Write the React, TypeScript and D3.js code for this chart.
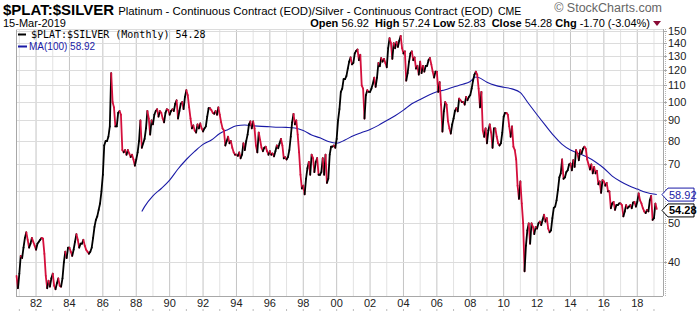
import React from "react";
import * as d3 from "d3";

// ---- Data (monthly closes of Platinum/Silver ratio), first point Nov 1980 ----
const FIRST_YEAR = 1980;
const FIRST_MONTH = 10; // November (0-based)

const r1980 = [37, 34.5];
const r1981 = [37.5, 41.5, 41, 43.5, 46, 47.5, 45.5, 43.5, 44.5, 46, 45, 44];
const r1982 = [43, 44.5, 45, 45.5, 46, 45.8, 42, 37, 34.5, 36, 34.8, 36.5];
const r1983 = [37.5, 35, 34.3, 35.5, 36.5, 35, 34.8, 36.5, 40, 42.5, 41, 43.5];
const r1984 = [43.5, 42.5, 41.5, 43, 45, 47, 45.5, 43.5, 44.5, 44.5, 45.5, 44];
const r1985 = [43, 42.5, 42, 42.5, 43.5, 46, 49, 51, 52, 54, 56, 60];
const r1986 = [66, 78, 80, 80, 82, 87, 118, 100, 97, 87, 87, 94];
const r1987 = [95, 93, 76, 75, 76, 74, 76, 74.5, 73, 74, 72, 69.5];
const r1988 = [72, 75, 80, 90, 77, 79, 81, 86, 95, 91, 83, 90];
const r1989 = [88, 93, 95, 96, 92, 95, 94, 91, 89, 94, 96, 95.5];
const r1990 = [93, 95, 96, 95, 99, 101, 91, 95, 99, 100, 96, 103];
const r1991 = [107, 104, 97, 91, 86, 87.5, 85, 84, 88, 86, 88.5, 86];
const r1992 = [84.5, 86, 87, 92, 96.5, 96.5, 95.5, 94, 93.5, 95, 93, 97];
const r1993 = [93, 89, 86, 85, 78, 80, 82, 79, 80, 77, 75, 74];
const r1994 = [74, 73.5, 75, 72.5, 74, 79, 76, 80, 83, 88, 89.5, 86];
const r1995 = [89.5, 86, 78, 75, 84, 80.5, 77, 75.5, 77, 77.5, 75.5, 74];
const r1996 = [75.5, 74, 74.5, 73.3, 75.5, 78, 76.8, 79, 81, 78, 72.5, 73];
const r1997 = [72, 73, 76, 82, 89, 93.5, 88, 90, 83, 75, 66, 61];
const r1998 = [62, 59, 64.5, 68.5, 71, 66, 74, 72.6, 67, 71, 72.6, 66];
const r1999 = [66, 67, 72.6, 66, 74, 63, 64.5, 74, 77.5, 77.5, 78, 77];
const r2000 = [81, 90, 96, 106, 108, 114, 114, 116, 121, 126, 129, 124];
const r2001 = [125, 132, 134, 135, 127, 131, 110, 108, 91, 104, 107, 106];
const r2002 = [106, 108, 111, 115, 109, 115, 125, 122.7, 128.6, 126, 128, 125];
const r2003 = [122, 136, 144, 140, 128, 140, 136, 141, 137, 142, 146, 136];
const r2004 = [132, 133.6, 113, 118, 126, 132, 133.6, 127, 129, 121, 123, 117];
const r2005 = [126, 118, 123, 119, 123, 123, 127, 128.6, 124, 119, 115, 119];
const r2006 = [119, 106, 112, 98.5, 84.5, 94.8, 100, 98.5, 89.5, 86, 83.5, 88];
const r2007 = [91, 95, 96.6, 94.8, 102, 101, 100, 100, 98.5, 103, 101, 103];
const r2008 = [104, 108, 113, 117, 119, 117, 108, 97, 106, 85, 82, 86];
const r2009 = [79, 85, 88, 84, 77, 86, 86, 82, 79, 78, 79, 84];
const r2010 = [92, 94, 94, 93, 87, 82, 87, 77.5, 76, 72, 62, 57.5];
const r2011 = [63.5, 56, 50, 38, 44, 48, 50, 44.5, 50, 49, 47, 49];
const r2012 = [48.5, 50, 50.5, 49.5, 51, 52.5, 50.5, 51.5, 48.5, 47.5, 48, 51.5];
const r2013 = [54.6, 55, 57, 60.5, 65, 66.5, 72, 64.5, 65, 67, 67.7, 70];
const r2014 = [70.4, 67.7, 71.7, 69, 76, 74.5, 71.7, 76, 74.5, 76.6, 77.5, 76.6];
const r2015 = [72, 70, 68, 70, 66.5, 69, 66.5, 67.5, 62.5, 63.5, 59.5, 64];
const r2016 = [63.5, 62, 63, 60, 60, 54.5, 56, 56.5, 54, 55.5, 55.5, 56];
const r2017 = [56, 55.5, 52, 53.5, 55.5, 54.5, 55, 55.5, 54.5, 56.3, 56.5, 55];
const r2018 = [56.5, 59.3, 57, 56, 54.5, 53.5, 53, 54, 53.5, 57, 58.5, 51];
const r2019 = [51.5, 55.98, 54.28];

const ratioYears = [
  r1980, r1981, r1982, r1983, r1984, r1985, r1986, r1987, r1988, r1989,
  r1990, r1991, r1992, r1993, r1994, r1995, r1996, r1997, r1998, r1999,
  r2000, r2001, r2002, r2003, r2004, r2005, r2006, r2007, r2008, r2009,
  r2010, r2011, r2012, r2013, r2014, r2015, r2016, r2017, r2018, r2019,
];

// 100-month moving average, read at sample dates
const maDates = [
  "1988-05", "1988-07", "1989-01", "1989-07", "1990-01", "1990-07", "1991-01", "1991-07",
  "1992-01", "1992-07", "1993-01", "1993-07", "1994-01", "1994-07", "1995-01", "1995-07",
  "1996-01", "1996-07", "1997-01", "1997-07", "1998-01", "1998-07", "1999-01", "1999-07",
  "2000-01", "2000-07", "2001-01", "2001-07", "2002-01", "2002-07", "2003-01", "2003-07",
  "2004-01", "2004-07", "2005-01", "2005-07", "2006-01", "2006-07", "2007-01", "2007-07",
  "2008-01", "2008-05", "2008-07", "2009-01", "2009-07", "2010-01", "2010-07", "2011-01",
  "2011-07", "2012-01", "2012-07", "2013-01", "2013-07", "2014-01", "2014-07", "2015-01",
  "2015-07", "2016-01", "2016-07", "2017-01", "2017-07", "2018-01", "2018-07", "2019-03",
];
const maValues = [
  53.5, 55, 58.5, 61, 64, 68.2, 72, 75.4,
  78.5, 80.5, 83.5, 85.5, 87.3, 87.7, 87.3, 87,
  86.8, 86.6, 86.5, 86.2, 85, 82.8, 81.5, 79.8,
  79, 80.5, 82.5, 84, 85.5, 87.5, 90, 92.5,
  95.5, 99, 101.5, 104, 106, 107.3, 109, 110.5,
  112.5, 115.4, 115, 112, 110, 108.8, 107.8, 105.5,
  99, 93, 87.5, 82.5, 78.5, 76, 74.5, 73,
  71, 68.5, 65.5, 63.5, 62, 60.8, 59.7, 58.92,
];

const yTicks = [40, 50, 60, 70, 80, 90, 100, 110, 120, 130, 140, 150];
const yLabels = [40, 50, 70, 80, 90, 100, 110, 120, 130, 140, 150]; // 60 is hidden behind the MA tag
const xLabelYears = d3.range(1982, 2019, 2);
const xGridYears = d3.range(1981, 2020, 1);

const lastClose = 54.28;
const lastMA = 58.92;

// ---- Layout ----
const W = 700;
const H = 312;
const L = 16, R = 663, T = 29, B = 296;
const UP = "#000000";
const DOWN = "#d40f3c";
const MA_COLOR = "#1a1aa6";

export default function App() {
  const x = d3.scaleLinear().domain([1980.8, 2019.54]).range([L, R]);
  const y = d3.scaleLog().domain([33.0, 151.8]).range([B, T]);

  const pts: { t: number; v: number }[] = [];
  ratioYears.forEach((arr, yi) => {
    arr.forEach((v, mi) => {
      const monthIndex = (yi === 0 ? FIRST_MONTH : 0) + mi;
      pts.push({ t: FIRST_YEAR + yi + monthIndex / 12, v });
    });
  });

  const maPts = maDates.map((d, i) => {
    const [yy, mm] = d.split("-").map(Number);
    return { t: yy + (mm - 1) / 12, v: maValues[i] };
  });
  const maLine = d3
    .line<{ t: number; v: number }>()
    .x((d) => x(d.t))
    .y((d) => y(d.v))
    .curve(d3.curveMonotoneX);

  const segs = pts.slice(1).map((p, i) => {
    const prev = pts[i];
    return {
      x1: x(prev.t), y1: y(prev.v), x2: x(p.t), y2: y(p.v),
      c: p.v >= prev.v ? UP : DOWN,
    };
  });

  const font = "'Liberation Sans', Arial, sans-serif";
  const yMA = y(lastMA);
  const yClose = y(lastClose) + 1.5;
  const boxPath = (cy: number) =>
    `M${R - 1},${cy} L${R + 5},${cy - 6.5} L${R + 31},${cy - 6.5} L${R + 31},${cy + 6.5} L${R + 5},${cy + 6.5} Z`;

  return (
    <svg width={W} height={H} viewBox={`0 0 ${W} ${H}`} style={{ position: "absolute", left: 0, top: 0, background: "#fff" }}>
      <rect x={0} y={0} width={W} height={H} fill="#fff" />
      {/* grid */}
      {xGridYears.map((yr) => (
        <line key={"gx" + yr} x1={x(yr)} x2={x(yr)} y1={T} y2={B}
          stroke={yr % 2 === 0 ? "#c4c4c4" : "#e2e2e2"} strokeWidth={1} />
      ))}
      {yTicks.map((v) => (
        <line key={"gy" + v} x1={L} x2={R} y1={Math.round(y(v)) + 0.5} y2={Math.round(y(v)) + 0.5}
          stroke="#dcdcdc" strokeWidth={1} />
      ))}
      {/* frame */}
      <line x1={L + 0.5} x2={L + 0.5} y1={T} y2={B} stroke="#a8a8a8" />
      <line x1={L} x2={R} y1={B + 0.5} y2={B + 0.5} stroke="#a8a8a8" />
      <line x1={L} x2={R} y1={T + 0.5} y2={T + 0.5} stroke="#dcdcdc" />
      <line x1={R + 0.5} x2={R + 0.5} y1={T} y2={B} stroke="#a8a8a8" />
      <line x1={R + 2.5} x2={R + 2.5} y1={T} y2={B} stroke="#b8b8b8" strokeDasharray="1,1" />
      {yTicks.map((v) => (
        <line key={"ty" + v} x1={R} x2={R + 4} y1={Math.round(y(v)) + 0.5} y2={Math.round(y(v)) + 0.5} stroke="#a8a8a8" />
      ))}
      {/* MA line */}
      <path d={maLine(maPts) || ""} fill="none" stroke={MA_COLOR} strokeWidth={1.1} />
      {/* price line */}
      {segs.map((s, i) => (
        <line key={"s" + i} x1={s.x1} y1={s.y1} x2={s.x2} y2={s.y2} stroke={s.c}
          strokeWidth={1.8} strokeLinecap="round" />
      ))}
      {/* y labels */}
      {yLabels.map((v) => (
        <text key={"ly" + v} x={R + 5} y={y(v) + 4} fontSize={11} fontFamily={font} fill="#222">{v}</text>
      ))}
      {/* x labels */}
      {xLabelYears.map((yr) => (
        <text key={"lx" + yr} x={x(yr)} y={307} fontSize={11} fontFamily={font} fill="#222" textAnchor="middle">
          {String(yr % 100).padStart(2, "0")}
        </text>
      ))}
      {xGridYears.map((yr) => (
        <line key={"bt" + yr} x1={x(yr)} x2={x(yr)} y1={309} y2={311} stroke="#bbb" />
      ))}
      {/* last value tags */}
      <path d={boxPath(yMA)} fill="#fff" stroke={MA_COLOR} strokeWidth={1} />
      <text x={R + 6} y={yMA + 4} fontSize={11} fontFamily={font} fill={MA_COLOR}>{lastMA.toFixed(2)}</text>
      <path d={boxPath(yClose)} fill="#fff" stroke="#000" strokeWidth={1} />
      <text x={R + 6} y={yClose + 4} fontSize={11} fontFamily={font} fontWeight="bold" fill="#000">{lastClose.toFixed(2)}</text>
      {/* legend */}
      <line x1={18} x2={26} y1={34.5} y2={34.5} stroke="#000" strokeWidth={2} />
      <text x={31} y={38} fontSize={10} fontFamily="'DejaVu Sans Mono', monospace" fill="#000">$PLAT:$SILVER (Monthly) 54.28</text>
      <line x1={18} x2={27} y1={46.5} y2={46.5} stroke={MA_COLOR} strokeWidth={2} />
      <text x={29} y={50} fontSize={10} fontFamily={font} fill={MA_COLOR}>MA(100) 58.92</text>
      {/* header */}
      <text x={3} y={14.5} fontFamily={font} fill="#000">
        <tspan fontSize={15} fontWeight="bold">$PLAT:$SILVER</tspan>
        <tspan fontSize={11.4} dx={4}>Platinum - Continuous Contract (EOD)/Silver - Continuous Contract (EOD)</tspan>
        <tspan fontSize={10.5} dx={5}>CME</tspan>
      </text>
      <text x={3} y={27} fontSize={11} fontFamily={font} fill="#000">15-Mar-2019</text>
      <text x={650} y={27} fontSize={11} fontFamily={font} fill="#000" textAnchor="end">
        <tspan fontWeight="bold">Open</tspan> 56.92 <tspan fontWeight="bold" dx={3}>High</tspan> 57.24
        <tspan fontWeight="bold" dx={3}>Low</tspan> 52.83 <tspan fontWeight="bold" dx={3}>Close</tspan> 54.28
        <tspan fontWeight="bold" dx={3}>Chg</tspan> -1.70 (-3.04%)
      </text>
      <path d="M653,21 L661,21 L657,26 Z" fill="#8a0a35" />
      <text x={662} y={12} fontSize={12.5} fontFamily={font} fill="#666" textAnchor="end">© StockCharts.com</text>
    </svg>
  );
}
